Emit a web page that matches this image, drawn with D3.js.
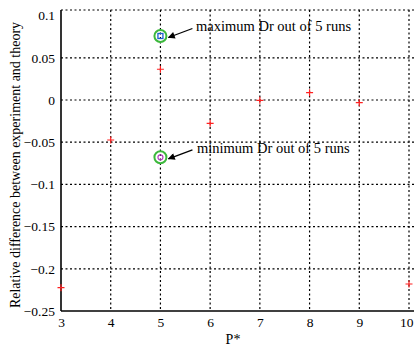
<!DOCTYPE html>
<html>
<head>
<meta charset="utf-8">
<script src="https://cdn.jsdelivr.net/npm/d3@7"></script>
<style>
  html, body { margin: 0; padding: 0; background: #fff; }
  svg { display: block; }
  text { font-family: "Liberation Serif", "DejaVu Serif", serif; fill: #000; }
</style>
</head>
<body>
<svg id="chart" width="414" height="350"></svg>
<script>
// P* values and the relative difference between experiment and theory
const pValues = [3, 4, 5, 6, 7, 8, 9, 10];
const relDiff = [-0.2224, -0.0474, 0.0364, -0.0276, -0.0004, 0.0086, -0.0032, -0.218];

// Extremes of the five runs at P* = 5
const maxRun = { p: 5, value: 0.0758, label: "maximum Dr out of 5 runs" };
const minRun = { p: 5, value: -0.0679, label: "minimum Dr out of 5 runs" };

const xTicks = [3, 4, 5, 6, 7, 8, 9, 10];
const yTicks = [0.1, 0.05, 0, -0.05, -0.1, -0.15, -0.2, -0.25];

const xLabel = "P*";
const yLabel = "Relative difference between experiment and theory";

const svg = d3.select("#chart");
const plotL = 61, plotR = 409, plotT = 10, plotB = 311;
const serif = "Liberation Serif, DejaVu Serif, serif";

const x = d3.scaleLinear().domain([3, 10]).range([plotL, plotR]);
const y = d3.scaleLinear().domain([-0.25, 0.1066]).range([plotB, plotT]);

const fmt = v => (v < 0 ? "\u2212" : "") + String(Math.abs(v));

// dotted grid and dotted top frame
const grid = svg.append("g").attr("stroke", "#000").attr("stroke-width", 1.2)
  .attr("stroke-dasharray", "2,2.5").attr("fill", "none");
grid.selectAll(".gx").data(xTicks.slice(1)).join("line")
  .attr("x1", d => x(d)).attr("x2", d => x(d))
  .attr("y1", plotT).attr("y2", plotB);
grid.selectAll(".gy").data(yTicks.slice(1, -1)).join("line")
  .attr("x1", plotL).attr("x2", 414)
  .attr("y1", d => y(d)).attr("y2", d => y(d));
grid.append("line").attr("x1", plotL).attr("x2", 414)
  .attr("y1", plotT).attr("y2", plotT);

// axes
const yAxis = d3.axisLeft(y).tickValues(yTicks).tickFormat(fmt).tickSize(0).tickPadding(6);
const gy = svg.append("g").attr("transform", `translate(${plotL},0)`)
  .call(yAxis).attr("font-family", serif);
gy.select(".domain").attr("stroke", "#000").attr("stroke-width", 1.6)
  .attr("d", `M0,${plotT}V${plotB}`);
gy.selectAll("text").attr("font-size", 13.5);

const xAxis = d3.axisBottom(x).tickValues(xTicks).tickFormat(d3.format("d")).tickSize(0).tickPadding(6);
const gx = svg.append("g").attr("transform", `translate(0,${plotB})`)
  .call(xAxis).attr("font-family", serif);
gx.select(".domain").attr("stroke", "#000").attr("stroke-width", 1.6)
  .attr("d", `M${plotL},0H414`);
gx.selectAll("text").attr("font-size", 13.5);
// keep the last tick label inside the window
gx.selectAll(".tick").filter(d => d === 10).select("text")
  .attr("text-anchor", "end").attr("dx", "0.3em");

// axis titles
svg.append("text").attr("x", 233).attr("y", 344)
  .attr("text-anchor", "middle").attr("font-size", 14).text(xLabel);
svg.append("text").attr("transform", `translate(20,165) rotate(-90)`)
  .attr("text-anchor", "middle").attr("font-size", 14).text(yLabel);

// red plus markers
const pts = pValues.map((p, i) => ({ p, v: relDiff[i] }));
const plus = svg.append("g").attr("stroke", "#ff2020").attr("stroke-width", 1.2);
plus.selectAll("path").data(pts).join("path")
  .attr("d", d => {
    const cx = x(d.p), cy = y(d.v), r = 3.5;
    return `M${cx - r},${cy}H${cx + r}M${cx},${cy - r}V${cy + r}`;
  });

// highlighted extremes
[maxRun, minRun].forEach(m => {
  svg.append("circle").attr("cx", x(m.p)).attr("cy", y(m.value)).attr("r", 6)
    .attr("fill", "none").attr("stroke", "#3cb83c").attr("stroke-width", 2);
});
svg.append("rect")
  .attr("x", x(maxRun.p) - 2.5).attr("y", y(maxRun.value) - 2.5)
  .attr("width", 5).attr("height", 5)
  .attr("fill", "none").attr("stroke", "#1a5fd0").attr("stroke-width", 1.3);
svg.append("circle").attr("cx", x(minRun.p)).attr("cy", y(minRun.value)).attr("r", 2.5)
  .attr("fill", "none").attr("stroke", "#b040c0").attr("stroke-width", 1.2);

// annotation arrows
svg.append("defs").append("marker").attr("id", "head")
  .attr("viewBox", "0 0 10 10").attr("refX", 9).attr("refY", 5)
  .attr("markerWidth", 9).attr("markerHeight", 7).attr("markerUnits", "userSpaceOnUse")
  .attr("orient", "auto")
  .append("path").attr("d", "M0,0L10,5L0,10z").attr("fill", "#000");

function annotate(m, tx) {
  const hx = x(m.p) + 8, hy = y(m.value) + 1.5;
  svg.append("line")
    .attr("x1", hx + 24).attr("y1", hy - 9)
    .attr("x2", hx).attr("y2", hy)
    .attr("stroke", "#000").attr("stroke-width", 1.3)
    .attr("marker-end", "url(#head)");
  svg.append("text").attr("x", tx).attr("y", hy - 6)
    .attr("font-size", 14.5).text(m.label);
}
annotate(maxRun, 196);
annotate(minRun, 197);
</script>
</body>
</html>
